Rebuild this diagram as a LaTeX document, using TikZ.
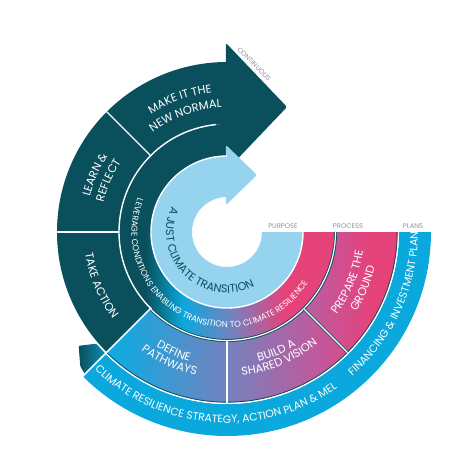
\documentclass[tikz,border=0pt]{standalone}
\usepackage{fontspec}
\setmainfont{Poppins}
\usetikzlibrary{decorations.text}

\definecolor{deepteal}{HTML}{0A4F5C}
\definecolor{skyblue}{HTML}{96D3EE}
\definecolor{bandcyan}{HTML}{0AA8DC}
\definecolor{proccyan}{HTML}{14A8DE}
\definecolor{procviolet}{HTML}{7482BF}
\definecolor{procmagenta}{HTML}{C4579A}
\definecolor{procpink}{HTML}{E6427A}
\definecolor{tailteal}{HTML}{0E8CB2}
\definecolor{taggrey}{HTML}{8E91A2}

\newcommand{\segfont}{\fontsize{11.4}{11.4}\selectfont\color{white}}
\newcommand{\ringfont}{\fontsize{8.5}{8.5}\selectfont\color{white}}
\newcommand{\corefont}{\fontsize{11.2}{11.2}\selectfont\color{deepteal}}
\newcommand{\bandfont}{\fontsize{10.8}{10.8}\selectfont\color{white}}

\begin{document}
\begin{tikzpicture}[
    x=1pt, y=1pt,
    arctext/.style={decorate, decoration={text along path, text align=center, text={#1}}},
    arctextleft/.style={decorate, decoration={text along path, text align=left, text={#1}}},
    gap/.style={white, line width=1.4pt},
    rim/.style={deepteal, line width=3pt},
    tag/.style={font=\fontsize{6.8}{7}\selectfont, text=taggrey, inner sep=0.5pt}
  ]
  \useasboundingbox (-227,-216) rectangle (242,232);

  % middle ring and the big continuous arrow
  \fill[deepteal] (0:76) arc[start angle=0, end angle=-270, radius=76]
    -- (90:108) arc[start angle=90, end angle=360, radius=108] -- cycle;
  \fill[deepteal] (225:108) -- (225:170) arc[start angle=225, end angle=90, radius=170]
    -- (90:108) arc[start angle=90, end angle=225, radius=108] -- cycle;
  \fill[deepteal, rounded corners=2pt] (-1,189) -- (60,125) -- (-1,61) -- cycle;

  % colour run of the middle ring
  \begin{scope}
    \clip (180:76) arc[start angle=180, end angle=360, radius=76]
      -- (0:108) arc[start angle=360, end angle=180, radius=108] -- cycle;
    \shade[left color=deepteal, right color=bandcyan] (-82,-110) rectangle (-44,1);
    \shade[left color=bandcyan, right color=procviolet] (-44.5,-110) rectangle (5,1);
    \shade[left color=procviolet, right color=procpink] (4.5,-110) rectangle (58,1);
    \fill[procpink] (57.5,-110) rectangle (110,1);
  \end{scope}

  % process ring
  \begin{scope}
    \clip (225:108) arc[start angle=225, end angle=360, radius=108]
      -- (0:171) arc[start angle=360, end angle=225, radius=171] -- cycle;
    \fill[proccyan] (-175,-175) rectangle (-104,1);
    \shade[left color=proccyan, right color=procviolet] (-104.5,-175) rectangle (0,1);
    \shade[left color=procviolet, right color=procmagenta] (-0.5,-175) rectangle (95,1);
    \shade[left color=procmagenta, right color=procpink] (94.5,-175) rectangle (145,1);
    \fill[procpink] (144.5,-175) rectangle (175,1);
  \end{scope}

  % plans band and the tail arrow
  \fill[bandcyan] (225:172) arc[start angle=225, end angle=360, radius=172]
    -- (0:204) arc[start angle=360, end angle=225, radius=204] -- cycle;
  \shade[left color=deepteal, right color=tailteal, rounded corners=1pt]
    (225:172) -- (220.5:172) -- (217.5:187) -- (222.5:199) -- (225:201) -- cycle;

  % purpose ring
  \fill[skyblue] (0:35) -- (0:76) arc[start angle=0, end angle=-270, radius=76]
    -- (90:35) arc[start angle=90, end angle=360, radius=35] -- cycle;
  \fill[skyblue, rounded corners=2pt] (-1,87) -- (30,57) -- (-1,27) -- cycle;

  % separators
  \draw[gap] (90:76) arc[start angle=90, end angle=360, radius=76];
  \draw[gap] (96:108) arc[start angle=96, end angle=225, radius=108];
  \draw[rim] (225:108.5) arc[start angle=225, end angle=360, radius=108.5];
  \draw[gap, line width=1.2pt] (225:108.5) arc[start angle=225, end angle=360, radius=108.5];
  \draw[deepteal, line width=0.9pt] (225:170.2) arc[start angle=225, end angle=360, radius=170.2];
  \draw[gap, line width=1.2pt] (225:171.4) arc[start angle=225, end angle=360, radius=171.4];
  \draw[gap] (135:108) -- (135:170);
  \draw[gap] (180:108) -- (180:170);
  \draw[rim, line width=2.6pt] (-45:109) -- (-45:170);
  \draw[gap, line width=1.1pt] (-45:109) -- (-45:170.5);
  \draw[rim, line width=2.6pt] (-90:109) -- (-90:170);
  \draw[gap, line width=1.1pt] (-90:109) -- (-90:170.5);
  \draw[gap, line width=1.6pt] (225:107) -- (225:205);

  % texts on the rings
  \path[arctext={|\corefont|A JUST CLIMATE TRANSITION}] (136:61) arc[start angle=136, end angle=316, radius=61];
  \path[arctext={|\ringfont|LEVERAGE CONDITIONS ENABLING TRANSITION TO CLIMATE RESILIENCE}] (140:95.5) arc[start angle=140, end angle=347, radius=95.5];
  \path[arctext={|\segfont|TAKE ACTION}] (183:143.5) arc[start angle=183, end angle=223, radius=143.5];
  \path[arctext={|\segfont|LEARN {\&}}] (176:141.5) arc[start angle=176, end angle=137, radius=141.5];
  \path[arctext={|\segfont|REFLECT}] (176:127) arc[start angle=176, end angle=137, radius=127];
  \path[arctext={|\segfont|MAKE IT THE}] (130:140) arc[start angle=130, end angle=89, radius=140];
  \path[arctext={|\segfont|NEW NORMAL}] (130:124.4) arc[start angle=130, end angle=89, radius=124.4];
  \path[arctext={|\segfont|DEFINE}] (226:135) arc[start angle=226, end angle=266, radius=135];
  \path[arctext={|\segfont|PATHWAYS}] (226:146.5) arc[start angle=226, end angle=266, radius=146.5];
  \path[arctext={|\segfont|BUILD A}] (272.5:133) arc[start angle=272.5, end angle=312.5, radius=133];
  \path[arctext={|\segfont|SHARED VISION}] (272.5:144) arc[start angle=272.5, end angle=312.5, radius=144];
  \path[arctext={|\segfont|PREPARE THE}] (317.5:137.3) arc[start angle=317.5, end angle=357.5, radius=137.3];
  \path[arctext={|\segfont|GROUND}] (317.5:152) arc[start angle=317.5, end angle=357.5, radius=152];
  \path[arctext={|\bandfont|CLIMATE RESILIENCE STRATEGY, ACTION PLAN {\&} MEL}] (219.7:191) arc[start angle=219.7, end angle=311.7, radius=191];
  \begin{scope}
    \clip (225:172) arc[start angle=225, end angle=360, radius=172]
      -- (0:204) arc[start angle=360, end angle=225, radius=204] -- cycle;
    \path[arctextleft={|\bandfont|FINANCING {\&} INVESTMENT PLAN}] (311:191) arc[start angle=311, end angle=380, radius=191];
  \end{scope}

  % column tags
  \node[tag] (purpose) at (56,6) {PURPOSE};
  \node[tag] (process) at (121,6) {PROCESS};
  \node[tag] (plans) at (186,6) {PLANS};
  \node[tag, rotate=-45] (cont) at (27,168) {CONTINUOUS};
\end{tikzpicture}
\end{document}
